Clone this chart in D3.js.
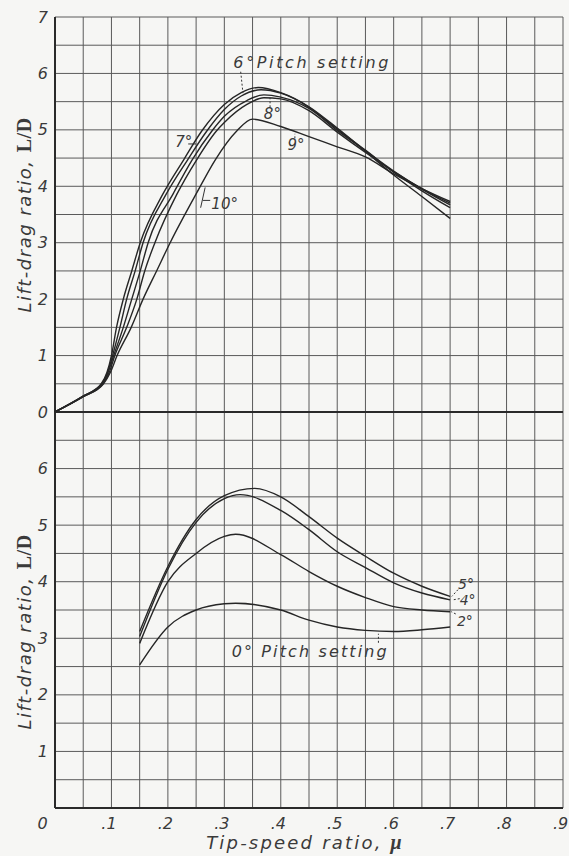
<!DOCTYPE html>
<html>
<head>
<meta charset="utf-8">
<script src="https://cdn.jsdelivr.net/npm/d3@7"></script>
<style>
  html, body { margin: 0; padding: 0; background: #f6f6f4; }
  svg { display: block; }
  text { font-family: "DejaVu Sans", "Liberation Sans", sans-serif; font-style: oblique; fill: #3a3a3a; }
</style>
</head>
<body>
<svg id="chart" width="569" height="856"></svg>
<script>
// ---------- DATA ----------
const xTickValues = [0, 0.1, 0.2, 0.3, 0.4, 0.5, 0.6, 0.7, 0.8, 0.9];
const xTickLabels = ["0", ".1", ".2", ".3", ".4", ".5", ".6", ".7", ".8", ".9"];
const yTopTickValues = [0, 1, 2, 3, 4, 5, 6, 7];
const yTopTickLabels = ["0", "1", "2", "3", "4", "5", "6", "7"];
const yBotTickValues = [1, 2, 3, 4, 5, 6];
const yBotTickLabels = ["1", "2", "3", "4", "5", "6"];

// Top panel: pitch settings 6°..10°  ([tip-speed ratio, L/D])
const top6 = [[0,0],[0.05,0.28],[0.082,0.5],[0.092,0.7],[0.1,1.0],[0.109,1.5],[0.121,2.0],[0.136,2.5],[0.151,3.0],[0.191,3.86],[0.228,4.47],[0.26,4.98],[0.3,5.45],[0.33,5.66],[0.36,5.75],[0.4,5.66],[0.45,5.41],[0.5,5.03],[0.55,4.62],[0.6,4.2],[0.65,3.82],[0.7,3.43]];
const top7 = [[0,0],[0.05,0.28],[0.083,0.5],[0.093,0.7],[0.102,1.0],[0.115,1.5],[0.127,2.0],[0.142,2.5],[0.156,3.0],[0.197,3.86],[0.235,4.47],[0.269,4.98],[0.3,5.36],[0.33,5.6],[0.365,5.71],[0.4,5.65],[0.45,5.4],[0.5,5.01],[0.55,4.64],[0.6,4.25],[0.65,3.92],[0.7,3.62]];
const top8 = [[0,0],[0.05,0.28],[0.084,0.5],[0.094,0.7],[0.104,1.0],[0.121,1.5],[0.136,2.0],[0.151,2.5],[0.165,3.0],[0.21,3.88],[0.243,4.47],[0.278,4.98],[0.3,5.24],[0.34,5.52],[0.37,5.62],[0.4,5.58],[0.45,5.38],[0.5,4.99],[0.55,4.63],[0.6,4.27],[0.65,3.95],[0.7,3.67]];
const top9 = [[0,0],[0.05,0.27],[0.085,0.5],[0.096,0.7],[0.106,1.0],[0.127,1.5],[0.145,2.0],[0.159,2.5],[0.177,3.0],[0.216,3.86],[0.251,4.47],[0.286,4.98],[0.3,5.13],[0.34,5.45],[0.37,5.57],[0.4,5.55],[0.45,5.34],[0.5,4.96],[0.55,4.6],[0.6,4.26],[0.65,3.96],[0.7,3.7]];
const top10 = [[0,0],[0.05,0.27],[0.086,0.5],[0.098,0.7],[0.11,1.0],[0.135,1.5],[0.156,2.0],[0.18,2.5],[0.204,3.0],[0.252,3.9],[0.284,4.47],[0.322,4.98],[0.35,5.19],[0.4,5.06],[0.45,4.88],[0.5,4.7],[0.55,4.52],[0.6,4.22],[0.65,3.96],[0.7,3.73]];

// Bottom panel: pitch settings 0°, 2°, 4°, 5°
const bot0 = [[0.15,2.53],[0.2,3.2],[0.25,3.5],[0.3,3.61],[0.32,3.62],[0.4,3.5],[0.45,3.32],[0.5,3.2],[0.55,3.14],[0.6,3.12],[0.65,3.15],[0.7,3.2]];
const bot2 = [[0.15,2.91],[0.2,4.0],[0.25,4.5],[0.3,4.8],[0.32,4.84],[0.4,4.48],[0.45,4.18],[0.5,3.92],[0.55,3.72],[0.6,3.56],[0.65,3.5],[0.7,3.47]];
const bot4 = [[0.15,3.03],[0.2,4.22],[0.25,5.05],[0.3,5.47],[0.328,5.54],[0.4,5.26],[0.45,4.92],[0.5,4.53],[0.55,4.25],[0.6,3.98],[0.65,3.8],[0.7,3.68]];
const bot5 = [[0.15,3.12],[0.2,4.27],[0.25,5.1],[0.3,5.52],[0.354,5.65],[0.4,5.5],[0.45,5.15],[0.5,4.77],[0.55,4.45],[0.6,4.15],[0.65,3.92],[0.7,3.74]];

const topSeries = [top6, top7, top8, top9, top10];
const botSeries = [bot0, bot2, bot4, bot5];

// ---------- DRAW ----------
const svg = d3.select("#chart");
const x = d3.scaleLinear().domain([0, 0.9]).range([55, 563]);
const yTop = d3.scaleLinear().domain([0, 7]).range([412, 17]);
const yBot = d3.scaleLinear().domain([0, 7]).range([808, 412]);

const gridColor = "#5a5a5a";
const grid = svg.append("g");

// vertical grid lines every 0.05
d3.range(0, 0.9001, 0.05).forEach(v => {
  grid.append("line")
    .attr("x1", x(v)).attr("x2", x(v))
    .attr("y1", yTop(7)).attr("y2", yBot(0))
    .attr("stroke", gridColor).attr("stroke-width", 1);
});
// horizontal grid lines every 0.5 in both panels
d3.range(0, 7.001, 0.5).forEach(v => {
  grid.append("line").attr("x1", x(0)).attr("x2", x(0.9))
    .attr("y1", yTop(v)).attr("y2", yTop(v))
    .attr("stroke", gridColor).attr("stroke-width", 1);
  grid.append("line").attr("x1", x(0)).attr("x2", x(0.9))
    .attr("y1", yBot(v)).attr("y2", yBot(v))
    .attr("stroke", gridColor).attr("stroke-width", 1);
});
// heavy axes lines
const axisColor = "#2a2a2a";
svg.append("line").attr("x1", x(0)).attr("x2", x(0)).attr("y1", yTop(7)).attr("y2", yBot(0))
  .attr("stroke", axisColor).attr("stroke-width", 2);
svg.append("line").attr("x1", x(0)).attr("x2", x(0.9)).attr("y1", yBot(0)).attr("y2", yBot(0))
  .attr("stroke", axisColor).attr("stroke-width", 2);
svg.append("line").attr("x1", x(0)).attr("x2", x(0.9)).attr("y1", yTop(0)).attr("y2", yTop(0))
  .attr("stroke", axisColor).attr("stroke-width", 1.8);

// axes (labels only)
const xAxis = d3.axisBottom(x).tickValues(xTickValues)
  .tickFormat((d, i) => xTickLabels[i]).tickSize(0).tickPadding(10);
const gx = svg.append("g").attr("transform", `translate(0,${yBot(0)})`).call(xAxis);
gx.select(".domain").remove();
gx.selectAll("text")
  .attr("font-family", "DejaVu Sans, sans-serif").attr("font-style", "oblique")
  .attr("font-size", 16).attr("fill", "#555")
  .attr("dx", d => d === 0 ? -13 : -3);

function styleY(g) {
  g.select(".domain").remove();
  g.selectAll("text")
    .attr("font-family", "DejaVu Sans, sans-serif").attr("font-style", "oblique")
    .attr("font-size", 16).attr("fill", "#555");
}
const yAxisTop = d3.axisLeft(yTop).tickValues(yTopTickValues)
  .tickFormat((d, i) => yTopTickLabels[i]).tickSize(0).tickPadding(7);
svg.append("g").attr("transform", `translate(${x(0)},0)`).call(yAxisTop).call(styleY);
const yAxisBot = d3.axisLeft(yBot).tickValues(yBotTickValues)
  .tickFormat((d, i) => yBotTickLabels[i]).tickSize(0).tickPadding(7);
svg.append("g").attr("transform", `translate(${x(0)},0)`).call(yAxisBot).call(styleY);

// curves
const lineTop = d3.line().x(d => x(d[0])).y(d => yTop(d[1])).curve(d3.curveMonotoneX);
const lineBot = d3.line().x(d => x(d[0])).y(d => yBot(d[1])).curve(d3.curveMonotoneX);
svg.append("g").selectAll("path").data(topSeries).join("path")
  .attr("d", lineTop).attr("fill", "none").attr("stroke", "#262626").attr("stroke-width", 1.4);
svg.append("g").selectAll("path").data(botSeries).join("path")
  .attr("d", lineBot).attr("fill", "none").attr("stroke", "#262626").attr("stroke-width", 1.4);

// annotations
const ann = svg.append("g").attr("font-family", "DejaVu Sans, sans-serif").attr("font-style", "oblique");
function label(px, py, txt, size, len) {
  const t = ann.append("text").attr("x", px).attr("y", py).attr("font-size", size)
    .attr("fill", "#333").text(txt);
  if (len) t.attr("textLength", len).attr("lengthAdjust", "spacing");
}
function leader(x1, y1, x2, y2, dashed) {
  ann.append("line").attr("x1", x1).attr("y1", y1).attr("x2", x2).attr("y2", y2)
    .attr("stroke", "#333").attr("stroke-width", 1)
    .attr("stroke-dasharray", dashed ? "2,2" : null);
}
// top panel labels
label(x(0.316), yTop(6.1), "6°Pitch setting", 16, 155);
leader(x(0.329), yTop(6.03), x(0.333), yTop(5.65), true);
label(x(0.37), yTop(5.2), "8°", 15);
leader(x(0.381), yTop(5.4), x(0.381), yTop(5.57), true);
label(x(0.412), yTop(4.65), "9°", 15);
leader(x(0.425), yTop(4.85), x(0.425), yTop(4.93), true);
label(x(0.213), yTop(4.7), "7°", 15);
leader(x(0.236), yTop(4.75), x(0.25), yTop(4.75), false);
label(x(0.277), yTop(3.6), "10°", 15);
leader(x(0.258), yTop(3.62), x(0.266), yTop(3.98), false);
leader(x(0.262), yTop(3.75), x(0.275), yTop(3.75), false);

// bottom panel labels
label(x(0.714), yBot(3.87), "5°", 14);
leader(x(0.714), yBot(3.86), x(0.703), yBot(3.74), true);
label(x(0.717), yBot(3.58), "4°", 14);
leader(x(0.717), yBot(3.7), x(0.705), yBot(3.68), true);
label(x(0.712), yBot(3.22), "2°", 14);
leader(x(0.71), yBot(3.43), x(0.702), yBot(3.47), true);
label(x(0.313), yBot(2.67), "0° Pitch setting", 16, 155);
leader(x(0.573), yBot(2.92), x(0.573), yBot(3.08), true);

// axis titles
const xt = svg.append("text").attr("x", 305).attr("y", 849).attr("text-anchor", "middle")
  .attr("font-size", 18).attr("fill", "#333").attr("letter-spacing", 2.2);
xt.append("tspan").text("Tip-speed ratio, ");
xt.append("tspan").attr("font-family", "Liberation Serif, serif").attr("font-weight", "bold").attr("font-size", 20).text("μ");

function yTitle(cy) {
  const t = svg.append("text").attr("transform", `translate(31,${cy}) rotate(-90)`)
    .attr("text-anchor", "middle").attr("font-size", 18).attr("fill", "#333").attr("letter-spacing", 1.5);
  t.append("tspan").text("Lift-drag ratio, ");
  t.append("tspan").attr("font-family", "Liberation Serif, serif").attr("font-style", "normal")
    .attr("font-weight", "bold").attr("font-size", 20).attr("letter-spacing", 0.5).text("L/D");
}
yTitle(215);
yTitle(632);
</script>
</body>
</html>
